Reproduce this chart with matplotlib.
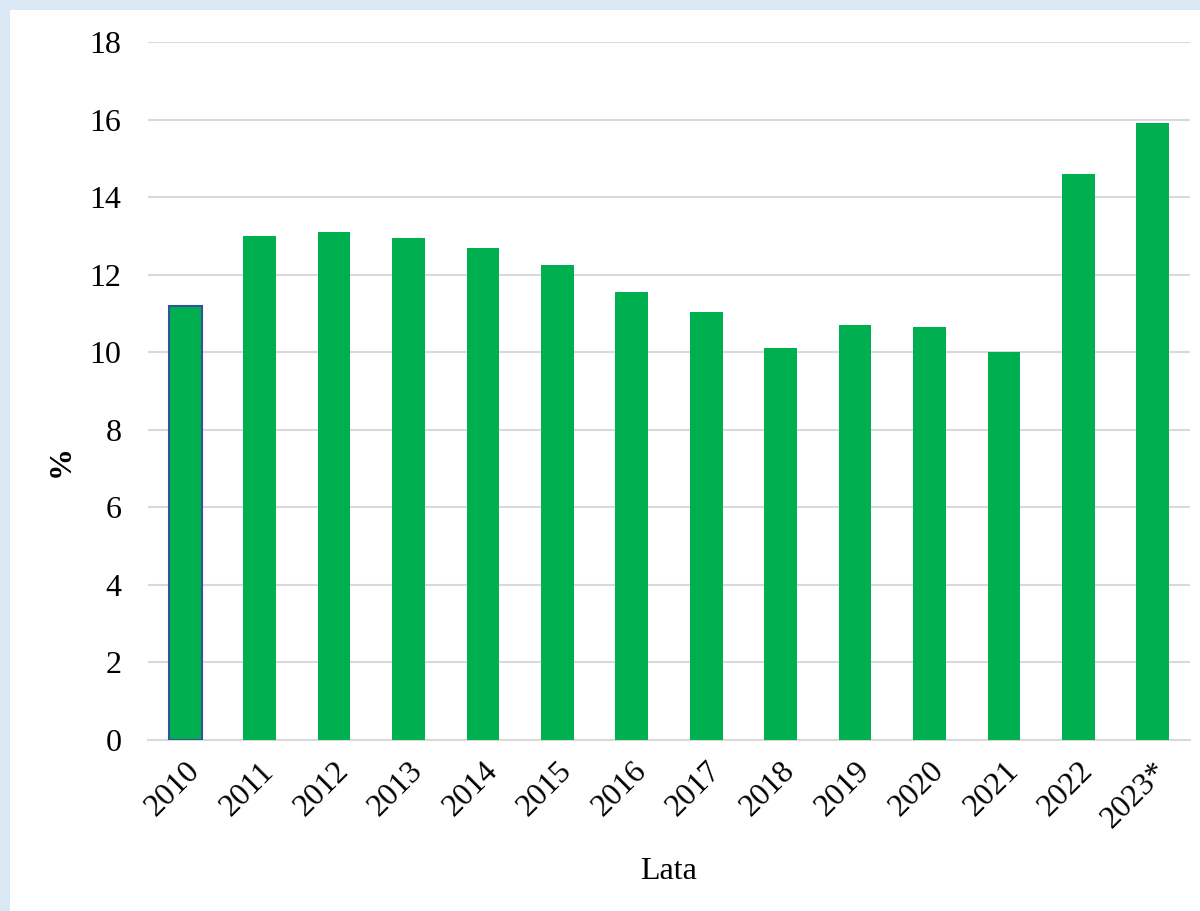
import matplotlib.pyplot as plt
import matplotlib.patches as mpatches
import numpy as np

years = ['2010', '2011', '2012', '2013', '2014', '2015', '2016', '2017',
         '2018', '2019', '2020', '2021', '2022', '2023*']
values = [11.2, 13.0, 13.1, 12.95, 12.7, 12.25, 11.55, 11.05,
          10.1, 10.7, 10.65, 10.0, 14.6, 15.9]

plt.rcParams['font.family'] = ['Liberation Serif', 'DejaVu Serif']

fig = plt.figure(figsize=(12, 9.11), dpi=100)
fig.patch.set_facecolor('#dbe8f6')
# white panel behind the chart
fig.patches.append(mpatches.Rectangle((10 / 1200, 0), 1 - 10 / 1200, 1 - 10 / 911,
                                      transform=fig.transFigure, facecolor='white',
                                      edgecolor='none', zorder=-5))

ax = fig.add_axes([148 / 1200, 1 - 740 / 911, (1190 - 148) / 1200, (740 - 42) / 911])
ax.set_facecolor('none')

x = np.arange(len(years))
bars = ax.bar(x, values, width=0.44, color='#00b050', zorder=3)
bars[0].set_edgecolor('#2f5597')
bars[0].set_linewidth(1.5)

ax.set_xlim(-0.5, len(years) - 0.5)
ax.set_ylim(0, 18)
ax.set_yticks(range(0, 19, 2))
ax.yaxis.grid(True, color='#d9d9d9', linewidth=1.5, zorder=0)
ax.set_axisbelow(True)
for s in ['top', 'right', 'left']:
    ax.spines[s].set_visible(False)
ax.spines['bottom'].set_color('#d9d9d9')
ax.spines['bottom'].set_linewidth(1.5)

ax.set_xticks(x)
ax.set_xticklabels(years, rotation=45, ha='right', rotation_mode='anchor')
ax.tick_params(axis='both', length=0, labelsize=23, colors='black')
ax.tick_params(axis='x', pad=12)
ax.tick_params(axis='y', pad=19)

ax.set_xlabel('Lata', fontsize=23, labelpad=17)
ax.set_ylabel('%', fontsize=23, fontweight='bold', va='center')
ax.yaxis.set_label_coords(-0.083, 0.40)

plt.savefig('out.png', dpi=100)
plt.close()
